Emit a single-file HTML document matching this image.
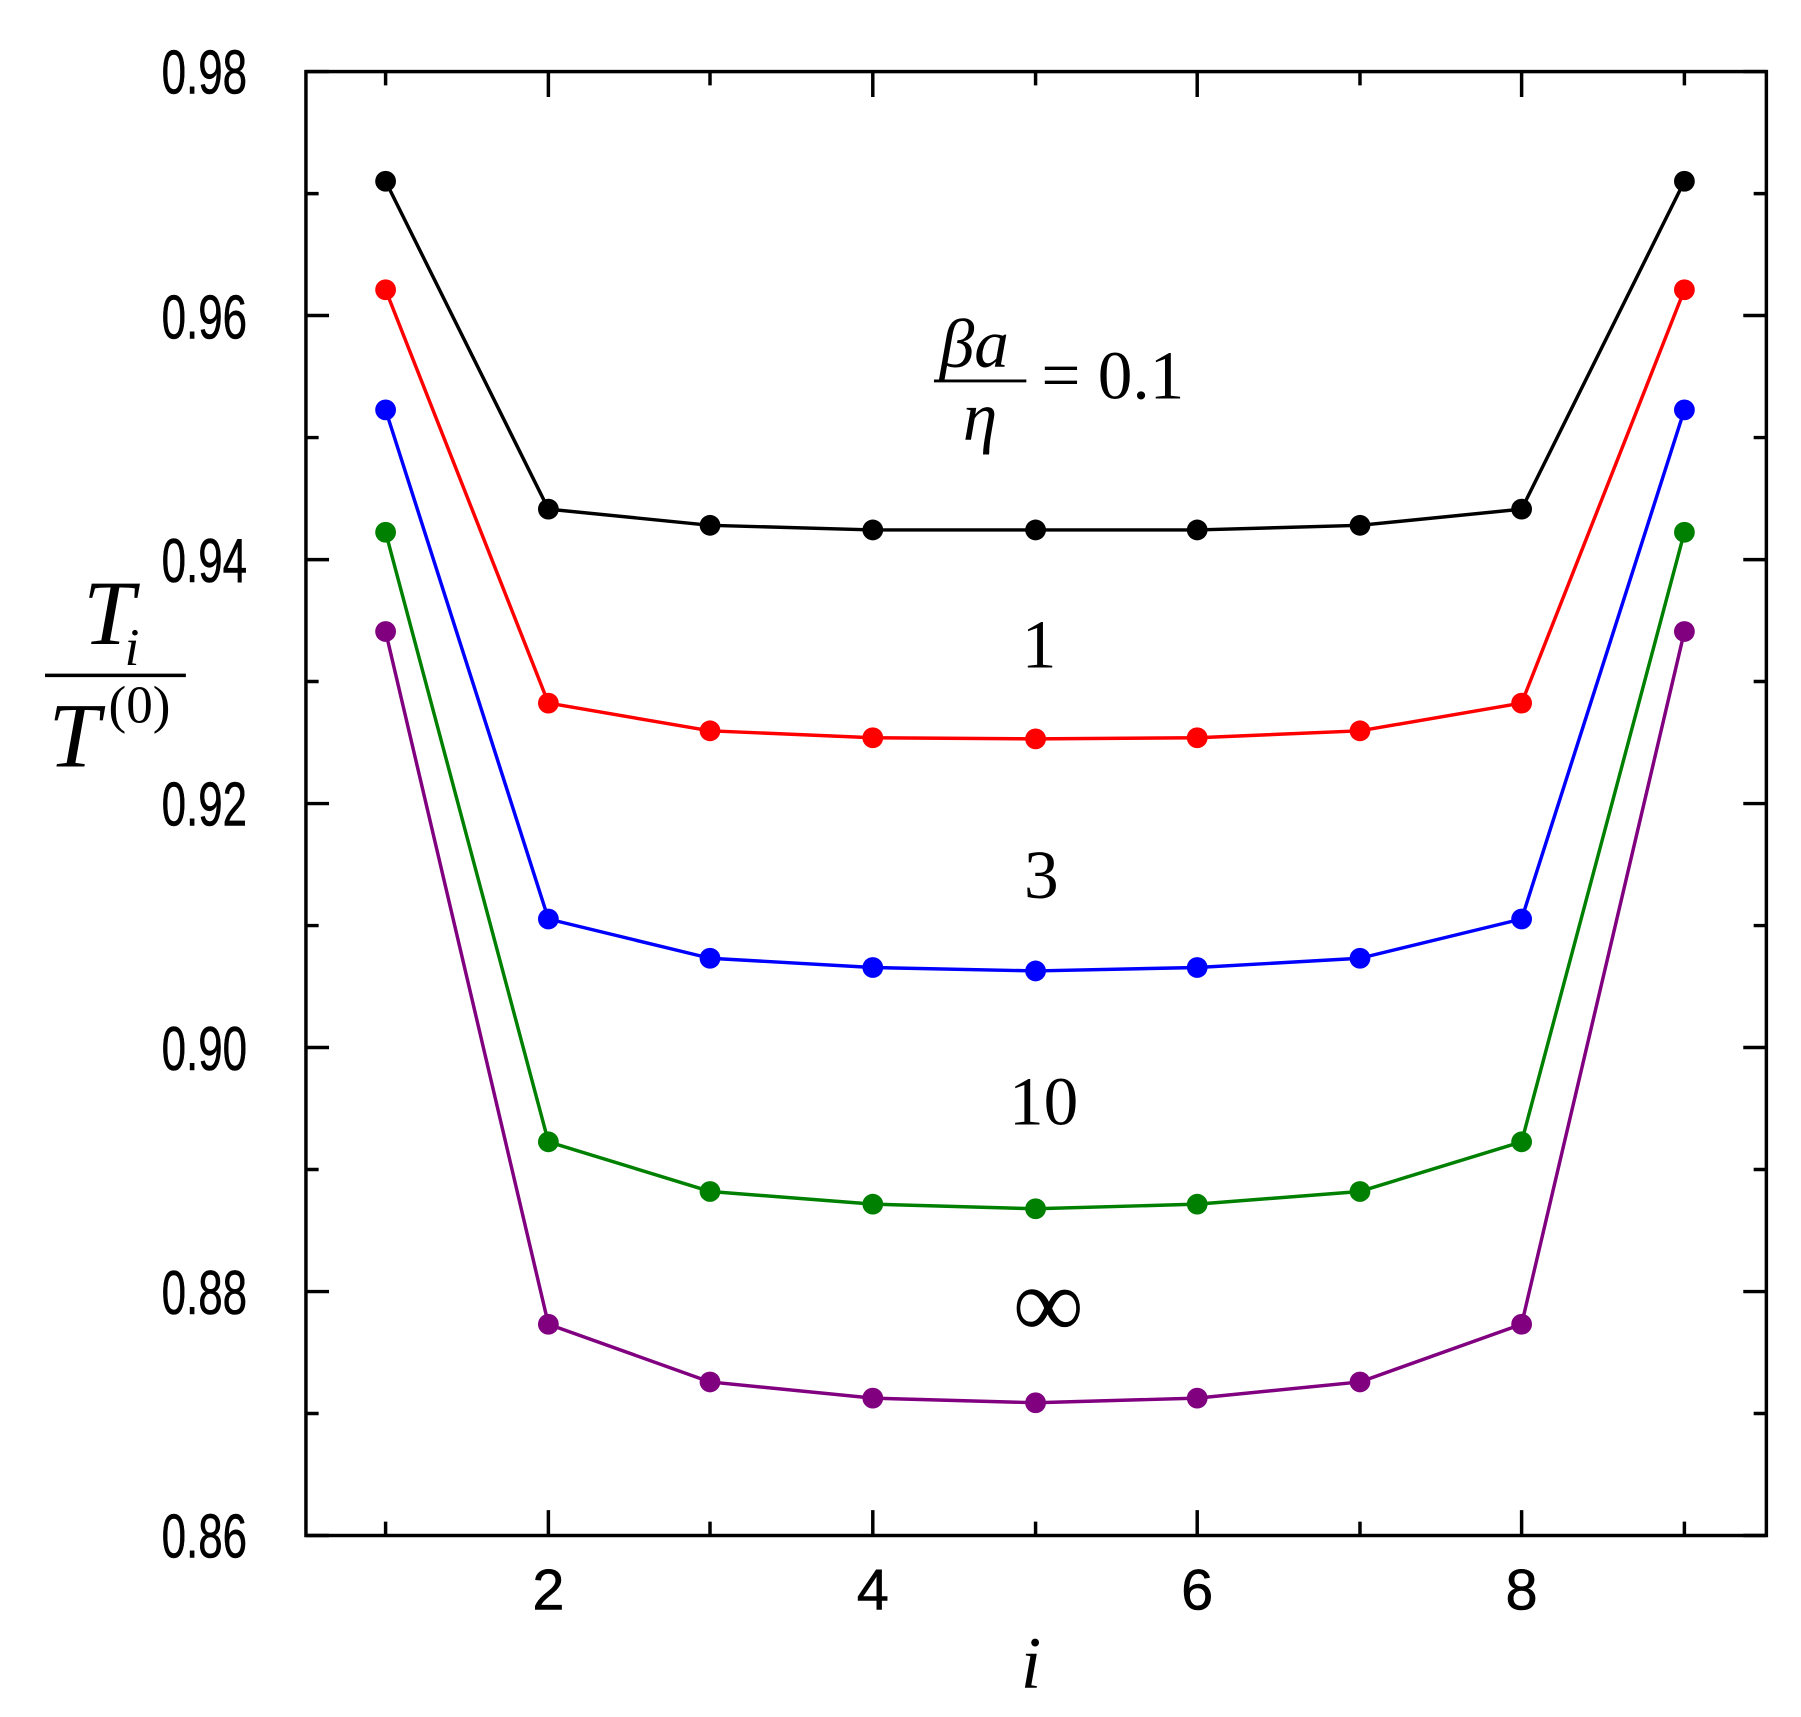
<!DOCTYPE html>
<html><head><meta charset="utf-8"><style>
html,body{margin:0;padding:0;background:#fff;}
svg{display:block;}
</style></head><body>
<svg width="1801" height="1717" viewBox="0 0 1560 1487.2" preserveAspectRatio="none" xmlns="http://www.w3.org/2000/svg">
<rect x="0" y="0" width="1560" height="1488" fill="#fff"/>
<g stroke="#000" stroke-width="3" fill="none">
<rect x="265" y="62" width="1265" height="1268"/>
<path d="M265 62h20M265 167.7h11M265 273.3h20M265 379h11M265 484.7h20M265 590.3h11M265 696h20M265 801.7h11M265 907.3h20M265 1013h11M265 1118.7h20M265 1224.3h11M265 1330h20"/>
<path d="M1530 62h-20M1530 167.7h-11M1530 273.3h-20M1530 379h-11M1530 484.7h-20M1530 590.3h-11M1530 696h-20M1530 801.7h-11M1530 907.3h-20M1530 1013h-11M1530 1118.7h-20M1530 1224.3h-11M1530 1330h-20"/>
<path d="M334 1330v-12M475 1330v-22M615 1330v-12M756 1330v-22M897 1330v-12M1037 1330v-22M1178 1330v-12M1318 1330v-22M1459 1330v-12"/>
<path d="M334 62v12M475 62v22M615 62v12M756 62v22M897 62v12M1037 62v22M1178 62v12M1318 62v22M1459 62v12"/>
</g>
<g font-family="Liberation Sans, Arial, sans-serif" font-size="54" fill="#000" stroke="#000" stroke-width="0.5">
<text x="140" y="81" textLength="74" lengthAdjust="spacingAndGlyphs">0.98</text>
<text x="140" y="293" textLength="74" lengthAdjust="spacingAndGlyphs">0.96</text>
<text x="140" y="504" textLength="74" lengthAdjust="spacingAndGlyphs">0.94</text>
<text x="140" y="715" textLength="74" lengthAdjust="spacingAndGlyphs">0.92</text>
<text x="140" y="927" textLength="74" lengthAdjust="spacingAndGlyphs">0.90</text>
<text x="140" y="1138" textLength="74" lengthAdjust="spacingAndGlyphs">0.88</text>
<text x="140" y="1349" textLength="74" lengthAdjust="spacingAndGlyphs">0.86</text>
</g>
<g font-family="Liberation Sans, Arial, sans-serif" font-size="50" fill="#000" stroke="#000" stroke-width="0.5" text-anchor="middle">
<text x="475" y="1394">2</text>
<text x="756" y="1394">4</text>
<text x="1037" y="1394">6</text>
<text x="1318" y="1394">8</text>
</g>
<g fill="none" stroke-width="3" stroke-linejoin="round">
<polyline stroke="#000" points="334,157 475,441 615,455 756,459 897,459 1037,459 1178,455 1318,441 1459,157"/>
<polyline stroke="#f00" points="334,251 475,609 615,633 756,639 897,640 1037,639 1178,633 1318,609 1459,251"/>
<polyline stroke="#00f" points="334,355 475,796 615,830 756,838 897,841 1037,838 1178,830 1318,796 1459,355"/>
<polyline stroke="#008000" points="334,461 475,989 615,1032 756,1043 897,1047 1037,1043 1178,1032 1318,989 1459,461"/>
<polyline stroke="#800080" points="334,547 475,1147 615,1197 756,1211 897,1215 1037,1211 1178,1197 1318,1147 1459,547"/>
</g>
<g>
<g fill="#000"><circle cx="334" cy="157" r="9"/><circle cx="475" cy="441" r="9"/><circle cx="615" cy="455" r="9"/><circle cx="756" cy="459" r="9"/><circle cx="897" cy="459" r="9"/><circle cx="1037" cy="459" r="9"/><circle cx="1178" cy="455" r="9"/><circle cx="1318" cy="441" r="9"/><circle cx="1459" cy="157" r="9"/></g>
<g fill="#f00"><circle cx="334" cy="251" r="9"/><circle cx="475" cy="609" r="9"/><circle cx="615" cy="633" r="9"/><circle cx="756" cy="639" r="9"/><circle cx="897" cy="640" r="9"/><circle cx="1037" cy="639" r="9"/><circle cx="1178" cy="633" r="9"/><circle cx="1318" cy="609" r="9"/><circle cx="1459" cy="251" r="9"/></g>
<g fill="#00f"><circle cx="334" cy="355" r="9"/><circle cx="475" cy="796" r="9"/><circle cx="615" cy="830" r="9"/><circle cx="756" cy="838" r="9"/><circle cx="897" cy="841" r="9"/><circle cx="1037" cy="838" r="9"/><circle cx="1178" cy="830" r="9"/><circle cx="1318" cy="796" r="9"/><circle cx="1459" cy="355" r="9"/></g>
<g fill="#008000"><circle cx="334" cy="461" r="9"/><circle cx="475" cy="989" r="9"/><circle cx="615" cy="1032" r="9"/><circle cx="756" cy="1043" r="9"/><circle cx="897" cy="1047" r="9"/><circle cx="1037" cy="1043" r="9"/><circle cx="1178" cy="1032" r="9"/><circle cx="1318" cy="989" r="9"/><circle cx="1459" cy="461" r="9"/></g>
<g fill="#800080"><circle cx="334" cy="547" r="9"/><circle cx="475" cy="1147" r="9"/><circle cx="615" cy="1197" r="9"/><circle cx="756" cy="1211" r="9"/><circle cx="897" cy="1215" r="9"/><circle cx="1037" cy="1211" r="9"/><circle cx="1178" cy="1197" r="9"/><circle cx="1318" cy="1147" r="9"/><circle cx="1459" cy="547" r="9"/></g>
</g>
<g font-family="Liberation Serif, Times New Roman, serif" fill="#000">
<text x="814" y="318" font-size="60" font-style="italic">βa</text>
<line x1="809" y1="330" x2="889" y2="330" stroke="#000" stroke-width="2.5"/>
<text x="834" y="381" font-size="60" font-style="italic">η</text>
<text x="902" y="345" font-size="60">= 0.1</text>
<text x="900" y="578" font-size="60" text-anchor="middle">1</text>
<text x="902" y="778" font-size="60" text-anchor="middle">3</text>
<text x="904" y="974" font-size="60" text-anchor="middle">10</text>
<text x="908" y="1158" font-size="86" text-anchor="middle">∞</text>
<text x="893" y="1462" font-size="64" font-style="italic" text-anchor="middle">i</text>
<text x="72" y="558" font-size="80" font-style="italic">T</text>
<text x="108" y="576" font-size="46" font-style="italic">i</text>
<line x1="39" y1="585" x2="161" y2="585" stroke="#000" stroke-width="3"/>
<text x="42" y="664" font-size="80" font-style="italic">T</text>
<text x="94" y="626" font-size="46">(0)</text>
</g>
</svg>
</body></html>
